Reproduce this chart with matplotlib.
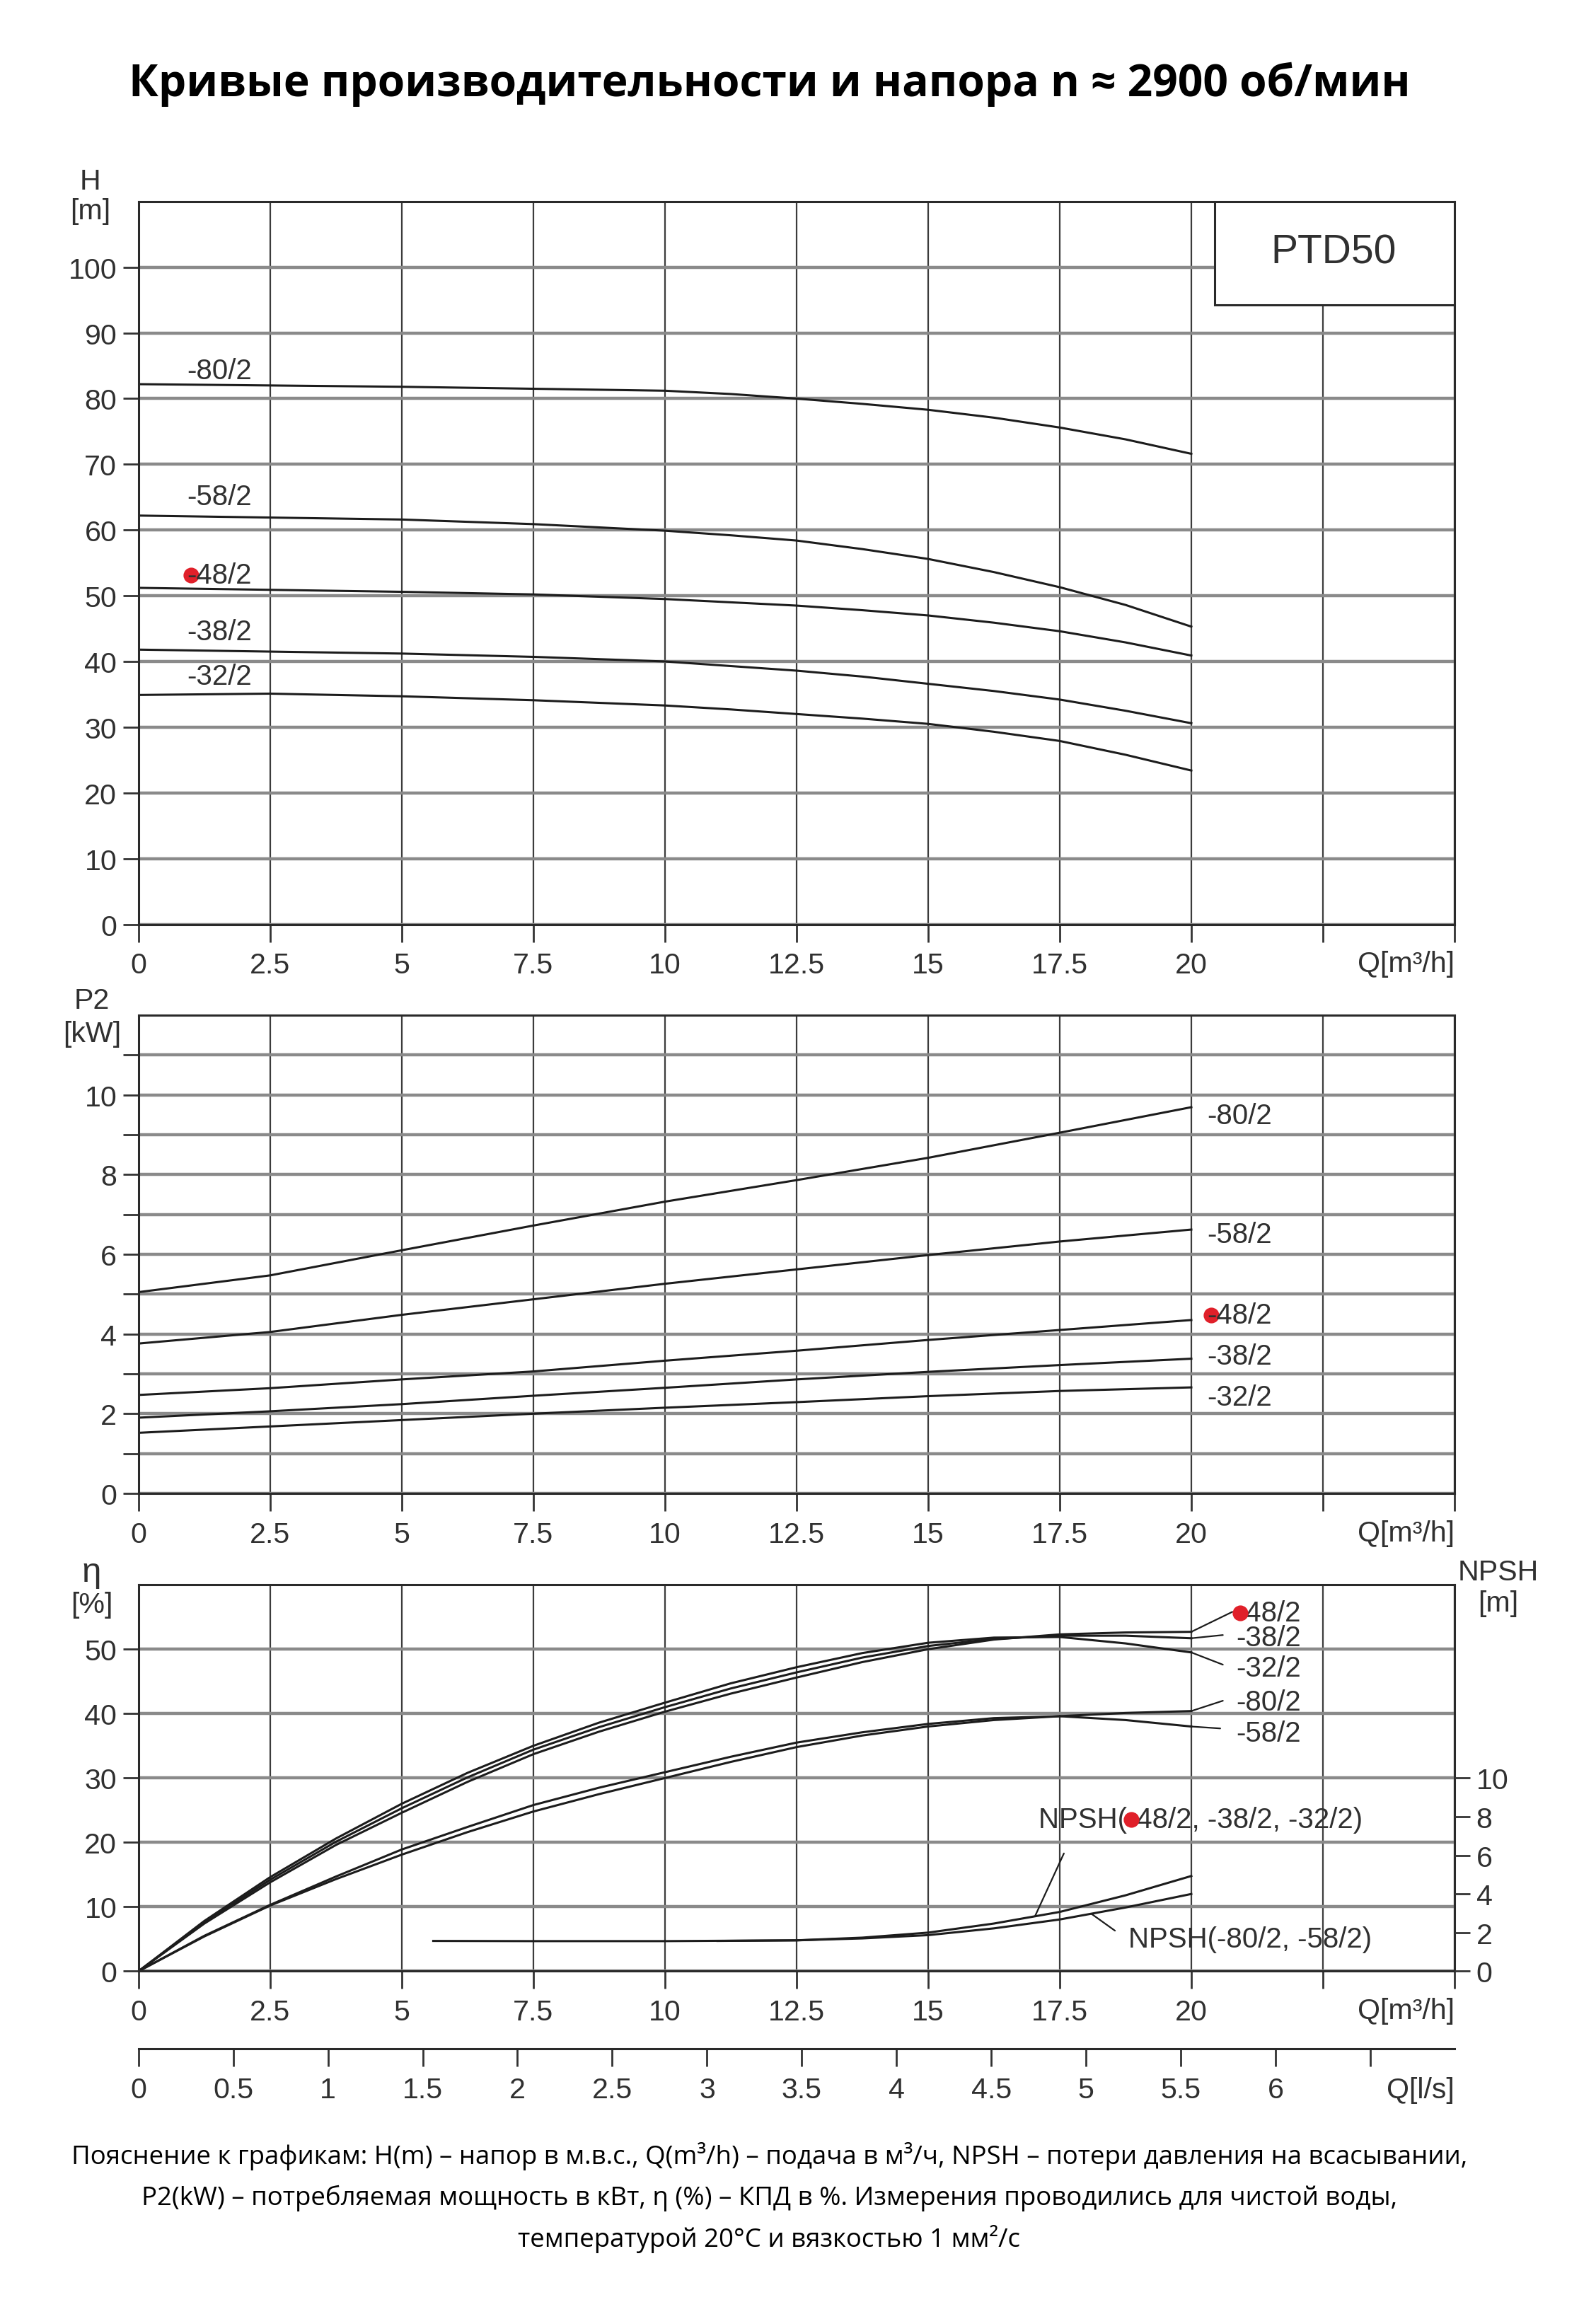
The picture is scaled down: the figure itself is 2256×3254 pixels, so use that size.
import numpy as np
import matplotlib
matplotlib.use('Agg')
import matplotlib.pyplot as plt
from matplotlib.patches import Rectangle
from matplotlib.ticker import FixedLocator, NullFormatter

# --- данные ---
# напор H [m]
q_h = [0, 2.5, 5, 7.5, 10, 11.25, 12.5, 13.75, 15, 16.25, 17.5, 18.75, 20]
h_80 = [82.2, 82.0, 81.8, 81.5, 81.2, 80.7, 80.0, 79.2, 78.3, 77.1, 75.6, 73.8, 71.6]
h_58 = [62.2, 61.9, 61.6, 60.9, 59.9, 59.2, 58.4, 57.1, 55.6, 53.6, 51.3, 48.6, 45.3]
h_48 = [51.2, 50.9, 50.6, 50.2, 49.5, 49.0, 48.5, 47.8, 47.0, 45.9, 44.6, 42.9, 40.9]
h_38 = [41.8, 41.5, 41.2, 40.7, 40.0, 39.3, 38.6, 37.7, 36.6, 35.5, 34.2, 32.5, 30.6]
h_32 = [34.9, 35.1, 34.7, 34.1, 33.3, 32.7, 32.0, 31.3, 30.5, 29.3, 27.9, 25.8, 23.4]

# мощность P2 [kW]
q_p = [0, 2.5, 5, 7.5, 10, 12.5, 15, 17.5, 20]
p_80 = [5.05, 5.47, 6.10, 6.72, 7.32, 7.86, 8.42, 9.05, 9.69]
p_58 = [3.76, 4.05, 4.48, 4.87, 5.26, 5.62, 5.98, 6.32, 6.62]
p_48 = [2.47, 2.64, 2.86, 3.06, 3.33, 3.58, 3.85, 4.10, 4.35]
p_38 = [1.90, 2.06, 2.24, 2.45, 2.65, 2.86, 3.05, 3.22, 3.38]
p_32 = [1.52, 1.68, 1.84, 2.00, 2.15, 2.29, 2.44, 2.57, 2.66]

# КПД eta [%]
q_eta = [0, 1.25, 2.5, 3.75, 5, 6.25, 7.5, 8.75, 10, 11.25, 12.5, 13.75, 15, 16.25, 17.5, 18.75, 20]
eta_48 = [0, 7.4, 13.8, 19.6, 24.6, 29.4, 33.7, 37.2, 40.3, 43.1, 45.6, 48.0, 50.0, 51.5, 52.3, 52.6, 52.7]
eta_38 = [0, 7.6, 14.2, 20.1, 25.3, 30.1, 34.4, 37.9, 41.0, 43.9, 46.4, 48.7, 50.5, 51.6, 52.1, 52.1, 51.7]
eta_32 = [0, 7.8, 14.6, 20.6, 26.0, 30.8, 35.0, 38.6, 41.7, 44.7, 47.2, 49.4, 51.0, 51.8, 51.9, 50.9, 49.5]
eta_80 = [0, 5.4, 10.2, 14.3, 18.1, 21.6, 24.8, 27.5, 30.0, 32.5, 34.8, 36.6, 38.0, 39.0, 39.6, 40.1, 40.4]
eta_58 = [0, 5.5, 10.3, 14.7, 18.9, 22.4, 25.8, 28.5, 30.9, 33.3, 35.5, 37.1, 38.4, 39.3, 39.6, 39.0, 38.0]

# NPSH [m]
q_npsh_a = [5.6, 7.5, 10, 12.5, 13.75, 15, 16.25, 17.5, 18.75, 20]
npsh_a = [1.57, 1.56, 1.56, 1.60, 1.74, 2.00, 2.47, 3.07, 3.93, 4.93]
q_npsh_b = [11.0, 12.5, 13.75, 15, 16.25, 17.5, 18.75, 20]
npsh_b = [1.57, 1.60, 1.70, 1.87, 2.22, 2.68, 3.30, 4.00]

q_ticks = [0, 2.5, 5, 7.5, 10, 12.5, 15, 17.5, 20, 22.5, 25]
q_labels = ['0', '2.5', '5', '7.5', '10', '12.5', '15', '17.5', '20', '', '']
ls_ticks = [0, 0.5, 1, 1.5, 2, 2.5, 3, 3.5, 4, 4.5, 5, 5.5, 6, 6.5]
ls_labels = ['0', '0.5', '1', '1.5', '2', '2.5', '3', '3.5', '4', '4.5', '5', '5.5', '6', '']

title = 'Кривые производительности и напора n ≈ 2900 об/мин'
caption = ['Пояснение к графикам: H(m) – напор в м.в.с., Q(m³/h) – подача в м³/ч, NPSH – потери давления на всасывании,',
           'P2(kW) – потребляемая мощность в кВт, η (%) – КПД в %. Измерения проводились для чистой воды,',
           'температурой 20°C и вязкостью 1 мм²/с']

# --- оформление ---
FONT = ['Liberation Sans', 'DejaVu Sans']
plt.rcParams['font.family'] = FONT
TXT = '#303030'
CURVE = '#1c1c1c'
RED = '#e0202a'
FS = 14.8
LFS = 14.5

fig = plt.figure(figsize=(11.28, 16.275), dpi=200)
L, W = 0.08675, 0.8246
ax1 = fig.add_axes([L, 0.5983, W, 0.3139])
ax2 = fig.add_axes([L, 0.35115, W, 0.2077])
ax3 = fig.add_axes([L, 0.14363, W, 0.16783])
ax4 = fig.add_axes([L, 0.10998, W, 0.0001])


def style_axes(ax, ymax, yticks, ylabels, yminor=None):
    ax.set_xlim(0, 25)
    ax.set_ylim(0, ymax)
    ax.xaxis.set_major_locator(FixedLocator(q_ticks))
    ax.set_xticklabels(q_labels)
    ax.set_yticks(yticks)
    ax.set_yticklabels(ylabels)
    if yminor is not None:
        ax.yaxis.set_minor_locator(FixedLocator(yminor))
        ax.yaxis.set_minor_formatter(NullFormatter())
        ax.tick_params(axis='y', which='minor', length=8, width=1.0, color='#333333')
        ax.grid(True, axis='y', which='minor', color='#8a8a8a', lw=1.6)
    ax.tick_params(axis='x', which='major', direction='out', length=9, width=1.0,
                   pad=5, labelsize=FS, labelcolor=TXT, color='#333333')
    ax.tick_params(axis='y', which='major', direction='out', length=8, width=1.0,
                   pad=3, labelsize=FS, labelcolor=TXT, color='#333333')
    ax.grid(True, axis='x', color='#3c3c3c', lw=0.8)
    ax.grid(True, axis='y', which='major', color='#8a8a8a', lw=1.6)
    ax.set_axisbelow(True)
    for s in ax.spines.values():
        s.set_color('#2a2a2a')
        s.set_linewidth(1.1)
    ax.annotate('Q[m³/h]', xy=(1, 0), xycoords='axes fraction', xytext=(0, -20),
                textcoords='offset points', ha='right', va='center',
                fontsize=FS, color=TXT)


# --- H ---
style_axes(ax1, 110, list(range(0, 101, 10)), [str(v) for v in range(0, 101, 10)])
for h, name, yl in [(h_80, '-80/2', 84.3), (h_58, '-58/2', 65.1), (h_48, '-48/2', 53.1),
                    (h_38, '-38/2', 44.5), (h_32, '-32/2', 37.7)]:
    ax1.plot(q_h, h, color=CURVE, lw=1.1)
    ax1.text(0.92, yl, name, fontsize=LFS, color=TXT, ha='left', va='center')
ax1.plot([1.0], [53.1], 'o', color=RED, ms=7)
ax1.add_patch(Rectangle((20.45, 94.3), 4.55, 15.7, facecolor='white',
                        edgecolor='#2a2a2a', lw=1.1, zorder=3))
ax1.text(22.7, 102.3, 'PTD50', fontsize=20.5, color=TXT, ha='center', va='center', zorder=4)

# --- P2 ---
style_axes(ax2, 12, [0, 2, 4, 6, 8, 10], ['0', '2', '4', '6', '8', '10'],
           yminor=[1, 3, 5, 7, 9, 11])
for p, name, yl in [(p_80, '-80/2', 9.47), (p_58, '-58/2', 6.5), (p_48, '-48/2', 4.47),
                    (p_38, '-38/2', 3.45), (p_32, '-32/2', 2.42)]:
    ax2.plot(q_p, p, color=CURVE, lw=1.1)
    ax2.text(20.3, yl, name, fontsize=LFS, color=TXT, ha='left', va='center')
ax2.plot([20.38], [4.47], 'o', color=RED, ms=7)

# --- eta / NPSH ---
style_axes(ax3, 60, [0, 10, 20, 30, 40, 50], ['0', '10', '20', '30', '40', '50'])
for e, name, lab in [(eta_48, '-48/2', (20.78, 55.8)), (eta_38, '-38/2', (20.6, 52.2)),
                     (eta_32, '-32/2', (20.6, 47.6)), (eta_80, '-80/2', (20.6, 42.0)),
                     (eta_58, '-58/2', (20.55, 37.7))]:
    ax3.plot(q_eta, e, color=CURVE, lw=1.1)
    ax3.annotate('', xy=(q_eta[-1], e[-1]), xytext=lab,
                 arrowprops=dict(arrowstyle='-', color=CURVE, lw=0.8, shrinkA=0, shrinkB=0))
ax3.text(20.85, 55.6, '-48/2', fontsize=LFS, color=TXT, ha='left', va='center')
ax3.text(20.85, 51.8, '-38/2', fontsize=LFS, color=TXT, ha='left', va='center')
ax3.text(20.85, 47.1, '-32/2', fontsize=LFS, color=TXT, ha='left', va='center')
ax3.text(20.85, 41.8, '-80/2', fontsize=LFS, color=TXT, ha='left', va='center')
ax3.text(20.85, 37.0, '-58/2', fontsize=LFS, color=TXT, ha='left', va='center')
ax3.plot([20.93], [55.6], 'o', color=RED, ms=7, zorder=5)

ax3r = ax3.twinx()
ax3r.set_ylim(0, 20)
ax3r.set_yticks([0, 2, 4, 6, 8, 10])
ax3r.tick_params(axis='y', direction='out', length=8, width=1.0, pad=3,
                 labelsize=FS, labelcolor=TXT, color='#333333')
for s in ax3r.spines.values():
    s.set_visible(False)
ax3r.plot(q_npsh_a, npsh_a, color=CURVE, lw=1.1)
ax3r.plot(q_npsh_b, npsh_b, color=CURVE, lw=1.1)
ax3r.text(17.1, 23.6 / 3, 'NPSH(-48/2, -38/2, -32/2)', fontsize=LFS, color=TXT,
          ha='left', va='center')
ax3r.plot([18.86], [23.6 / 3], 'o', color=RED, ms=7, zorder=5)
ax3r.annotate('', xy=(17.03, np.interp(17.03, q_npsh_a, npsh_a)), xytext=(17.58, 18.3 / 3),
              arrowprops=dict(arrowstyle='-', color=CURVE, lw=0.8, shrinkA=0, shrinkB=0))
ax3r.text(18.8, 5.0 / 3, 'NPSH(-80/2, -58/2)', fontsize=LFS, color=TXT,
          ha='left', va='center')
ax3r.annotate('', xy=(18.1, np.interp(18.1, q_npsh_b, npsh_b)), xytext=(18.55, 6.3 / 3),
              arrowprops=dict(arrowstyle='-', color=CURVE, lw=0.8, shrinkA=0, shrinkB=0))

# --- ось Q [l/s] ---
ax4.set_xlim(0, 25 / 3.6)
ax4.set_xticks(ls_ticks)
ax4.set_xticklabels(ls_labels)
ax4.set_yticks([])
for k in ['left', 'right', 'top']:
    ax4.spines[k].set_visible(False)
ax4.spines['bottom'].set_color('#2a2a2a')
ax4.spines['bottom'].set_linewidth(1.1)
ax4.tick_params(axis='x', direction='out', length=9, width=1.0, pad=5,
                labelsize=FS, labelcolor=TXT, color='#333333')
ax4.annotate('Q[l/s]', xy=(1, 0), xycoords='axes fraction', xytext=(0, -21),
             textcoords='offset points', ha='right', va='center', fontsize=FS, color=TXT)

# --- подписи осей ---
fig.text(0.0567, 0.921, 'H', fontsize=FS, color=TXT, ha='center', va='center')
fig.text(0.0567, 0.908, '[m]', fontsize=FS, color=TXT, ha='center', va='center')
fig.text(0.0576, 0.5653, 'P2', fontsize=FS, color=TXT, ha='center', va='center')
fig.text(0.0576, 0.5508, '[kW]', fontsize=FS, color=TXT, ha='center', va='center')
fig.text(0.0574, 0.3168, 'η', fontsize=FS + 3, color=TXT, ha='center', va='center')
fig.text(0.0574, 0.3029, '[%]', fontsize=FS, color=TXT, ha='center', va='center')
fig.text(0.9385, 0.3170, 'NPSH', fontsize=FS, color=TXT, ha='center', va='center')
fig.text(0.9385, 0.3035, '[m]', fontsize=FS, color=TXT, ha='center', va='center')

# --- заголовок и пояснение ---
fig.text(0.482, 0.9634, title, fontsize=22.4, fontweight='bold', color='black',
         ha='center', va='center', family=['Open Sans', 'DejaVu Sans'])
for line, y in zip(caption, [0.0636, 0.0455, 0.0276]):
    fig.text(0.482, y, line, fontsize=13.2, color='black', ha='center', va='center',
             family=['Open Sans', 'DejaVu Sans'])

fig.savefig('out.png', dpi=200)
